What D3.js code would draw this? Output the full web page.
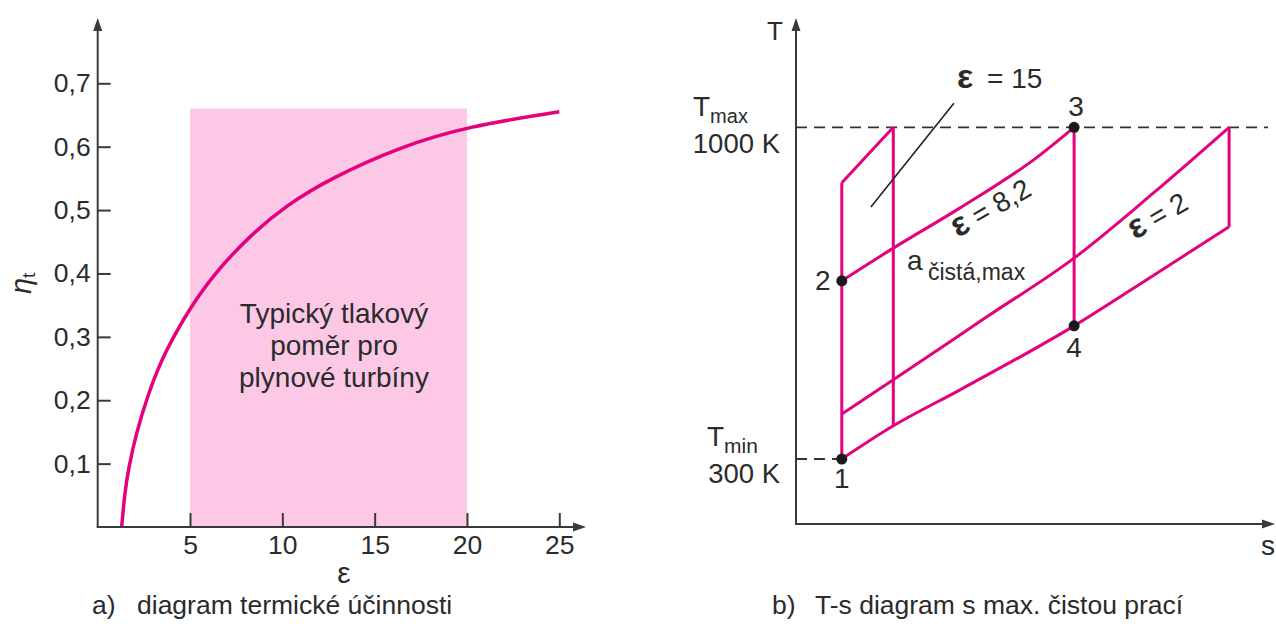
<!DOCTYPE html>
<html>
<head>
<meta charset="utf-8">
<script src="https://cdn.jsdelivr.net/npm/d3@7"></script>
<style>
  body { margin: 0; background: #fff; }
  svg { font-family: "Liberation Sans", Arial, sans-serif; }
  text { fill: #2b2b2b; }
</style>
</head>
<body>
<svg id="canvas" width="1276" height="624"></svg>
<script>
// a) thermal efficiency vs pressure ratio
const ratio = [1.3, 1.45, 1.65, 2.1, 2.74, 3.4, 4.2, 5.0, 6.3, 8.4, 10.2, 12.6, 16.4, 20, 25];
const efficiency = [0, 0.05, 0.09, 0.15, 0.21, 0.26, 0.305, 0.345, 0.4, 0.464, 0.507, 0.55, 0.6, 0.632, 0.655];
const etaTicks = [0.1, 0.2, 0.3, 0.4, 0.5, 0.6, 0.7];
const epsTicks = [5, 10, 15, 20, 25];
const typicalRange = [5, 20];
const typicalTop = 0.66;
const typicalText = ["Typický tlakový", "poměr pro", "plynové turbíny"];

// b) T-s diagram (s in relative units, T in K)
const tMin = 300, tMax = 1000;
const sStart = 0.096;
const lowS = [0.096, 0.204, 0.344, 0.583, 0.75, 0.908];
const lowT = [300, 370, 446, 581, 688, 790];
const iso2S = [0.096, 0.204, 0.4, 0.583, 0.75, 0.908];
const iso2T = [395, 467, 600, 724, 862, 1000];
const iso82S = [0.096, 0.204, 0.344, 0.503, 0.583];
const iso82T = [676, 745, 830, 935, 1000];
const iso15S = [0.096, 0.204];
const iso15T = [883, 1000];
const turbineS = [0.204, 0.583, 0.908];
const turbineT = [370, 581, 790];
const pointNames = ["1", "2", "3", "4"];
const pointS = [0.096, 0.096, 0.583, 0.583];
const pointT = [300, 676, 1000, 581];
const leaderS = [0.331, 0.157];
const leaderT = [1051, 832];

const pink = "#e5007e";
const axisColor = "#3a3a3a";

const canvas = d3.select("#canvas");

const arrowHead = (g, x, y, dir) => {
  const p = dir === "up"
    ? [[x, y], [x - 4.5, y + 13], [x + 4.5, y + 13]]
    : [[x, y], [x - 13, y - 4.5], [x - 13, y + 4.5]];
  g.append("path").attr("d", "M" + p.join("L") + "Z").attr("fill", axisColor);
};

// ---------- left chart ----------
const xL = d3.scaleLinear().domain([0, 25]).range([97.7, 559.3]);
const yL = d3.scaleLinear().domain([0, 0.7]).range([527, 83.3]);
const left = canvas.append("g");

left.append("rect")
  .attr("x", xL(typicalRange[0]))
  .attr("y", yL(typicalTop))
  .attr("width", xL(typicalRange[1]) - xL(typicalRange[0]))
  .attr("height", yL(0) - yL(typicalTop))
  .attr("fill", "#fcc8e5");

left.selectAll("text.note")
  .data(typicalText)
  .enter()
  .append("text")
  .attr("class", "note")
  .attr("x", 334)
  .attr("y", (d, i) => 323 + i * 32)
  .attr("text-anchor", "middle")
  .attr("font-size", 28)
  .text((d) => d);

// smooth spline through the read-off points
left.append("path")
  .datum(d3.zip(ratio, efficiency))
  .attr("d", d3.line().x((d) => xL(d[0])).y((d) => yL(d[1])).curve(d3.curveBasis))
  .attr("fill", "none")
  .attr("stroke", pink)
  .attr("stroke-width", 3.5);

const yAxisL = left.append("g")
  .attr("transform", `translate(${xL(0)},0)`)
  .call(d3.axisLeft(yL).tickValues(etaTicks).tickSizeInner(-13).tickSizeOuter(0).tickPadding(7)
    .tickFormat((d) => d3.format(".1f")(d).replace(".", ",")));
const xAxisL = left.append("g")
  .attr("transform", `translate(0,${yL(0)})`)
  .call(d3.axisBottom(xL).tickValues(epsTicks).tickSizeInner(-14).tickSizeOuter(0).tickPadding(8));
[yAxisL, xAxisL].forEach((a) => {
  a.select(".domain").remove();
  a.selectAll("line").attr("stroke", axisColor).attr("stroke-width", 2);
  a.selectAll("text").attr("font-size", 26.5).attr("fill", "#2b2b2b")
    .attr("font-family", '"Liberation Sans", Arial, sans-serif');
});

left.append("line")
  .attr("x1", xL(0)).attr("y1", yL(0)).attr("x2", xL(0)).attr("y2", 24)
  .attr("stroke", axisColor).attr("stroke-width", 2);
left.append("line")
  .attr("x1", xL(0) - 1).attr("y1", yL(0)).attr("x2", 578).attr("y2", yL(0))
  .attr("stroke", axisColor).attr("stroke-width", 2);
arrowHead(left, xL(0), 18, "up");
arrowHead(left, 586, yL(0), "right");

left.append("text")
  .attr("transform", "translate(31,294) rotate(-90)")
  .call((t) => {
    t.append("tspan").attr("font-size", 29).attr("font-style", "italic").text("η");
    t.append("tspan").attr("font-size", 19).attr("dy", 4).text("t");
  });

left.append("text").attr("x", 344).attr("y", 583).attr("text-anchor", "middle")
  .attr("font-size", 30).text("ε");
left.append("text").attr("x", 92).attr("y", 614).attr("font-size", 26.5).text("a)");
left.append("text").attr("x", 137).attr("y", 614).attr("font-size", 26.5)
  .text("diagram termické účinnosti");

// ---------- right chart ----------
const xR = d3.scaleLinear().domain([0, 1]).range([796, 1273]);
const yR = d3.scaleLinear().domain([tMin, tMax]).range([459, 127.3]);
const right = canvas.append("g");
const line = d3.line().x((d) => xR(d[0])).y((d) => yR(d[1]));

// dashed temperature limits
right.append("line")
  .attr("x1", xR(0)).attr("x2", 1268).attr("y1", yR(tMax)).attr("y2", yR(tMax))
  .attr("stroke", "#333").attr("stroke-width", 1.8).attr("stroke-dasharray", "11,7");
right.append("line")
  .attr("x1", xR(0)).attr("x2", xR(sStart)).attr("y1", yR(tMin)).attr("y2", yR(tMin))
  .attr("stroke", "#333").attr("stroke-width", 1.8).attr("stroke-dasharray", "11,7");

const curves = [
  { d: d3.zip(lowS, lowT), smooth: true },
  { d: d3.zip(iso2S, iso2T), smooth: true },
  { d: d3.zip(iso82S, iso82T), smooth: true },
  { d: d3.zip(iso15S, iso15T), smooth: false },
  { d: [[sStart, tMin], [sStart, iso15T[0]]], smooth: false },
];
turbineS.forEach((s, i) => curves.push({ d: [[s, turbineT[i]], [s, tMax]], smooth: false }));

right.selectAll("path.cycle")
  .data(curves)
  .enter()
  .append("path")
  .attr("class", "cycle")
  .attr("d", (c) => (c.smooth ? line.curve(d3.curveMonotoneX) : line.curve(d3.curveLinear))(c.d))
  .attr("fill", "none")
  .attr("stroke", pink)
  .attr("stroke-width", 3);

right.append("path")
  .attr("d", line.curve(d3.curveLinear)(d3.zip(leaderS, leaderT)))
  .attr("stroke", "#222").attr("stroke-width", 1.6);

// axes
right.append("line")
  .attr("x1", xR(0)).attr("y1", 524).attr("x2", xR(0)).attr("y2", 24)
  .attr("stroke", axisColor).attr("stroke-width", 2);
right.append("line")
  .attr("x1", xR(0) - 1).attr("y1", 524).attr("x2", 1265).attr("y2", 524)
  .attr("stroke", axisColor).attr("stroke-width", 2);
arrowHead(right, xR(0), 18, "up");
arrowHead(right, 1275, 524, "right");
right.append("text").attr("x", 775).attr("y", 40).attr("text-anchor", "middle")
  .attr("font-size", 26).text("T");
right.append("text").attr("x", 1261).attr("y", 555).attr("font-size", 28).text("s");

// temperature labels
const tLabel = (x, y, sub, subSize) => {
  const t = right.append("text").attr("x", x).attr("y", y);
  t.append("tspan").attr("font-size", 28).text("T");
  t.append("tspan").attr("font-size", subSize).attr("dy", 7).text(sub);
};
tLabel(693, yR(tMax) - 11, "max", 20);
tLabel(707, yR(tMin) - 13, "min", 21);
right.append("text").attr("x", 780).attr("y", yR(tMax) + 26).attr("text-anchor", "end")
  .attr("font-size", 27.5).text("1000 K");
right.append("text").attr("x", 780).attr("y", yR(tMin) + 24).attr("text-anchor", "end")
  .attr("font-size", 27.5).text("300 K");

// state points
const offsets = [[0, 29], [-19, 9], [2, -11], [0, 31]];
right.selectAll("circle.pt")
  .data(pointNames)
  .enter()
  .append("circle")
  .attr("class", "pt")
  .attr("cx", (d, i) => xR(pointS[i]))
  .attr("cy", (d, i) => yR(pointT[i]))
  .attr("r", 5.5)
  .attr("fill", "#1a1a1a");
right.selectAll("text.pt")
  .data(pointNames)
  .enter()
  .append("text")
  .attr("class", "pt")
  .attr("x", (d, i) => xR(pointS[i]) + offsets[i][0])
  .attr("y", (d, i) => yR(pointT[i]) + offsets[i][1])
  .attr("text-anchor", "middle")
  .attr("font-size", 28)
  .text((d) => d);

// pressure ratio labels
right.append("text").attr("x", 957).attr("y", 88).attr("font-size", 34)
  .attr("font-weight", "bold").text("ε");
right.append("text").attr("x", 987).attr("y", 88).attr("font-size", 28).text("= 15");

const rotLabel = (x, y, value) => {
  const t = right.append("text").attr("transform", `translate(${x},${y}) rotate(-30)`);
  t.append("tspan").attr("font-size", 34).attr("font-weight", "bold").text("ε");
  t.append("tspan").attr("font-size", 28).text(" = " + value);
};
rotLabel(958, 238, "8,2");
rotLabel(1135, 240, "2");

right.append("text").attr("x", 907).attr("y", 270).attr("font-size", 28).text("a");
right.append("text").attr("x", 928).attr("y", 280).attr("font-size", 23).text("čistá,max");

right.append("text").attr("x", 772).attr("y", 614).attr("font-size", 26.5).text("b)");
right.append("text").attr("x", 815).attr("y", 614).attr("font-size", 26.5)
  .text("T-s diagram s max. čistou prací");
</script>
</body>
</html>
